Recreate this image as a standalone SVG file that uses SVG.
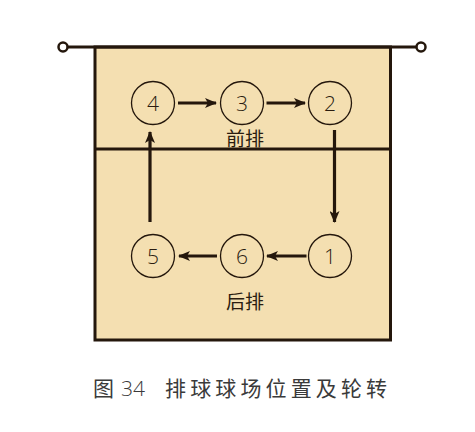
<svg xmlns="http://www.w3.org/2000/svg" width="475" height="432" viewBox="0 0 475 432">
<style>
.ln{stroke:#24170c;stroke-width:3}
.pos circle{fill:#f4dfb1;stroke:#24170c;stroke-width:1.3}
.pos text{font-family:"Open Sans","Liberation Sans",Arial,sans-serif;font-weight:300;font-size:21px;fill:#2a1c10;text-anchor:middle}
.lbl{font-family:"Noto Sans CJK SC",sans-serif;font-size:19px;fill:#2a1c10;text-anchor:middle}
.cap{font-family:"Noto Sans CJK SC",sans-serif;font-size:21px;fill:#3a3a3a}
.ar{stroke:#24170c;stroke-width:3.2;fill:none}
</style>
<defs>
<marker id="ah" viewBox="0 0 12 10" refX="11" refY="5" markerWidth="12" markerHeight="10" markerUnits="userSpaceOnUse" orient="auto">
<path d="M0,0 L12,5 L0,10 L3,5 Z" fill="#24170c"/>
</marker>
</defs>
<rect width="475" height="432" fill="#fff"/>
<g id="court">
<rect x="95" y="47" width="295.5" height="293" fill="#f4dfb1" stroke="#24170c" stroke-width="3"/>
<line x1="95" y1="149" x2="390.5" y2="149" class="ln"/>
<line x1="67" y1="47" x2="416" y2="47" class="ln"/>
<circle cx="63" cy="47" r="4.5" fill="#fff" stroke="#24170c" stroke-width="2.5"/>
<circle cx="421" cy="47" r="4.5" fill="#fff" stroke="#24170c" stroke-width="2.5"/>
</g>
<g id="connectors">
<line x1="178" y1="103" x2="216" y2="103" class="ar" marker-end="url(#ah)"/>
<line x1="266.5" y1="103" x2="305" y2="103" class="ar" marker-end="url(#ah)"/>
<line x1="334.5" y1="130" x2="334.5" y2="222" class="ar" marker-end="url(#ah)"/>
<line x1="306.5" y1="256" x2="267" y2="256" class="ar" marker-end="url(#ah)"/>
<line x1="217" y1="256" x2="179" y2="256" class="ar" marker-end="url(#ah)"/>
<line x1="150" y1="222" x2="150" y2="132" class="ar" marker-end="url(#ah)"/>
</g>
<g id="p4" class="pos"><circle cx="153" cy="103" r="21.5"/><text x="153" y="111">4</text></g>
<g id="p3" class="pos"><circle cx="242" cy="103" r="21.5"/><text x="242" y="111">3</text></g>
<g id="p2" class="pos"><circle cx="330" cy="103" r="21.5"/><text x="330" y="111">2</text></g>
<g id="p5" class="pos"><circle cx="153" cy="256" r="21.5"/><text x="153" y="264">5</text></g>
<g id="p6" class="pos"><circle cx="242" cy="256" r="21.5"/><text x="242" y="264">6</text></g>
<g id="p1" class="pos"><circle cx="330" cy="256" r="21.5"/><text x="330" y="264">1</text></g>
<g id="front"><text x="245" y="146" class="lbl">前排</text></g>
<g id="back"><text x="245" y="309" class="lbl">后排</text></g>
<g id="caption" class="cap">
<text x="93" y="396">图</text>
<text x="121" y="396" font-family="'Open Sans','Liberation Sans',sans-serif" font-weight="300">34</text>
<text x="165" y="396" textLength="222" lengthAdjust="spacing">排球球场位置及轮转</text>
</g>
</svg>
